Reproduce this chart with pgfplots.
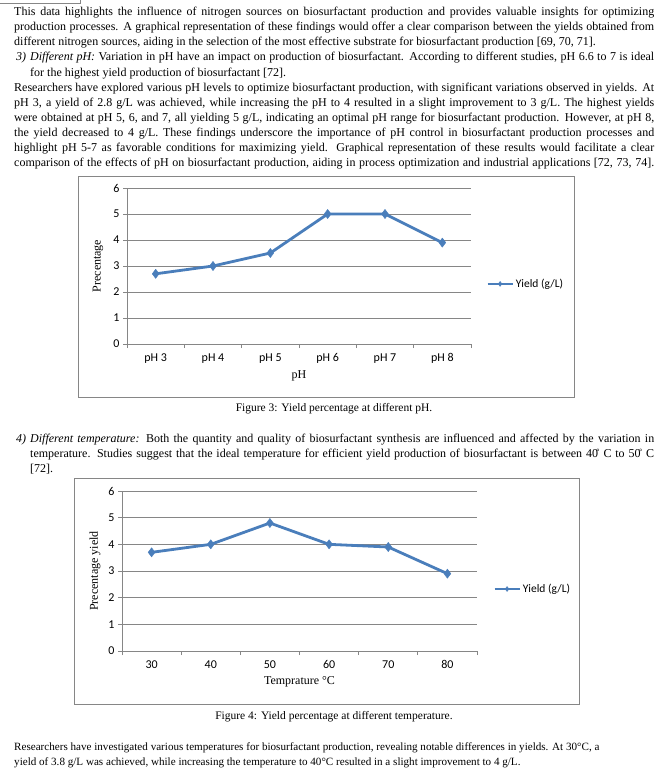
\documentclass[border=0pt]{standalone}
\usepackage{pgfplots}
\pgfplotsset{compat=1.18}
\usepackage{fontspec}
\setmainfont{Liberation Serif}
\newfontfamily\calibri{Carlito}
\definecolor{xlblue}{HTML}{4A7EBB}
\definecolor{xlgrid}{HTML}{868686}

\newcommand\bodyfont{\fontsize{12}{15}\selectfont}
\newcommand\capfont{\fontsize{11.5}{15}\selectfont}
\newcommand\smallbody{\fontsize{11.1}{15}\selectfont}
% justified line: x, baseline, width, text
\newcommand\jl[4]{\node[anchor=base west, inner sep=0pt] at (#1pt,-#2pt) {\bodyfont\makebox[#3pt][s]{#4}};}
% natural line: x, baseline, text
\newcommand\nl[3]{\node[anchor=base west, inner sep=0pt] at (#1pt,-#2pt) {\bodyfont #3};}
\newcommand\ringdeg{\kern-0.12em\raisebox{0.45ex}{\footnotesize °}}

\pgfplotsset{xlchart/.style={
  scale only axis, anchor=south west, clip=false,
  ymin=0, ymax=6, ytick={0,...,6},
  xmin=0.5, xmax=6.5, xtick={1,...,6},
  minor xtick={0.5,1.5,...,6.5},
  axis x line*=bottom, axis y line*=left,
  axis line style={xlgrid, line width=0.8pt, -},
  ymajorgrids, major grid style={xlgrid, line width=0.8pt},
  tick align=outside, major tick length=4pt, minor tick length=4pt,
  tick style={xlgrid, line width=0.8pt},
  major x tick style={draw=none},
  ticklabel style={font=\calibri\fontsize{12}{14}\selectfont, text=black},
  /pgf/number format/assume math mode=true,
  xticklabel style={yshift=-2pt},
  label style={font=\fontsize{12}{14}\selectfont},
  legend style={draw=none, fill=none, anchor=west, inner sep=0pt,
    font=\calibri\fontsize{11.5}{13}\selectfont},
  legend image code/.code={\draw[mark repeat=2,mark phase=2,#1,mark size=2.5pt]
    plot coordinates {(0pt,0pt) (12.5pt,0pt) (25pt,0pt)};},
}}
\tikzset{yieldline/.style={xlblue, line width=2.8pt, line join=round,
    mark=diamond*, mark size=4.6pt, mark options={solid, line width=0.4pt}}}

\begin{document}
\begin{tikzpicture}
\path[use as bounding box] (0pt,0pt) rectangle (668pt,-776pt);

\draw[xlgrid, line width=0.8pt] (0pt,-3pt) -- (80pt,-3pt) -- (80pt,0pt);

% text above figure 3
\jl{14}{16}{640}{This data highlights the influence of nitrogen sources on biosurfactant production and provides valuable insights for optimizing}
\jl{14}{31}{640}{production processes. A graphical representation of these findings would offer a clear comparison between the yields obtained from}
\nl{14}{46}{different nitrogen sources, aiding in the selection of the most effective substrate for biosurfactant production [69, 70, 71].}
\nl{16}{61}{\textit{3)}}
\jl{30}{61}{624}{\textit{Different pH:} Variation in pH have an impact on production of biosurfactant. According to different studies, pH 6.6 to 7 is ideal}
\nl{30}{76}{for the highest yield production of biosurfactant [72].}
\jl{14}{91}{640}{Researchers have explored various pH levels to optimize biosurfactant production, with significant variations observed in yields. At}
\jl{14}{106}{640}{pH 3, a yield of 2.8 g/L was achieved, while increasing the pH to 4 resulted in a slight improvement to 3 g/L. The highest yields}
\jl{14}{121}{640}{were obtained at pH 5, 6, and 7, all yielding 5 g/L, indicating an optimal pH range for biosurfactant production. However, at pH 8,}
\jl{14}{136}{640}{the yield decreased to 4 g/L. These findings underscore the importance of pH control in biosurfactant production processes and}
\jl{14}{151}{640}{highlight pH 5-7 as favorable conditions for maximizing yield. Graphical representation of these results would facilitate a clear}
\jl{14}{166}{640}{comparison of the effects of pH on biosurfactant production, aiding in process optimization and industrial applications [72, 73, 74].}

% figure 3
\draw[xlgrid, line width=0.8pt] (78pt,-176pt) rectangle (574pt,-397pt);
\begin{axis}[xlchart,
  at={(127pt,-344pt)}, width=344pt, height=156pt,
  xticklabels={pH 3,pH 4,pH 5,pH 6,pH 7,pH 8},
  xlabel={pH}, ylabel={Precentage},
  xlabel style={at={(axis description cs:0.5,0)}, anchor=center, yshift=-32pt},
  ylabel style={at={(axis description cs:-0.084,0.5)}, anchor=center},
  legend style={at={(axis description cs:1.0436,0.385)}},
]
\addplot[yieldline] coordinates {(1,2.7) (2,3.0) (3,3.5) (4,5.0) (5,5.0) (6,3.9)};
\addlegendentry{Yield (g/L)}
\end{axis}
\node[anchor=base, inner sep=0pt] at (334pt,-411pt) {\capfont Figure 3: Yield percentage at different pH.};

% text between figures
\nl{16}{442}{\textit{4)}}
\jl{30}{442}{624}{\textit{Different temperature:} Both the quantity and quality of biosurfactant synthesis are influenced and affected by the variation in}
\jl{30}{457}{624}{temperature. Studies suggest that the ideal temperature for efficient yield production of biosurfactant is between 40\ringdeg{} C to 50\ringdeg{} C}
\nl{30}{472}{[72].}

% figure 4
\draw[xlgrid, line width=0.8pt] (74pt,-478pt) rectangle (579pt,-704pt);
\begin{axis}[xlchart,
  at={(122pt,-651pt)}, width=355pt, height=160pt,
  xticklabels={30,40,50,60,70,80},
  xlabel={Temprature °C}, ylabel={Precentage yield},
  xlabel style={at={(axis description cs:0.5,0)}, anchor=center, yshift=-31pt},
  ylabel style={at={(axis description cs:-0.076,0.5)}, anchor=center},
  legend style={at={(axis description cs:1.045,0.3875)}},
]
\addplot[yieldline] coordinates {(1,3.7) (2,4.0) (3,4.8) (4,4.0) (5,3.9) (6,2.9)};
\addlegendentry{Yield (g/L)}
\end{axis}
\node[anchor=base, inner sep=0pt] at (334pt,-719pt) {\capfont Figure 4: Yield percentage at different temperature.};

% closing paragraph, ragged right
\node[anchor=base west, inner sep=0pt] at (14pt,-750pt) {\smallbody Researchers have investigated various temperatures for biosurfactant production, revealing notable differences in yields. At 30°C, a};
\node[anchor=base west, inner sep=0pt] at (14pt,-765pt) {\smallbody yield of 3.8 g/L was achieved, while increasing the temperature to 40°C resulted in a slight improvement to 4 g/L.};
\end{tikzpicture}
\end{document}
